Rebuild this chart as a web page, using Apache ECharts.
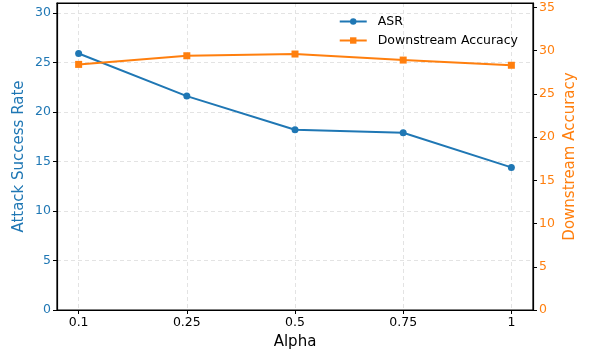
<!DOCTYPE html>
<html>
<head>
<meta charset="utf-8">
<script src="https://cdn.jsdelivr.net/npm/echarts@6/dist/echarts.min.js"></script>
<style>
  html, body { margin: 0; padding: 0; background: #fff; }
  #main { width: 595px; height: 355px; }
</style>
</head>
<body>
<div id="main"></div>
<script>
var alphas = ['0.1', '0.25', '0.5', '0.75', '1'];
var asr = [25.9, 21.6, 18.2, 17.9, 14.4];
var downstreamAcc = [28.4, 29.4, 29.6, 28.9, 28.3];

var blue = '#1f77b4', orange = '#ff7f0e';
var font = 'DejaVu Sans';

var myChart = echarts.init(document.getElementById('main'));

function pts(vals) {
    return vals.map(function (v, i) { return [i, v]; });
}

var gridLine = { show: true, lineStyle: { type: [4, 3], color: '#e3e3e3' } };

myChart.setOption({
    animation: false,
    textStyle: { fontFamily: font },
    grid: {
        left: 57, right: 62, top: 3, bottom: 42,
        show: true, borderColor: '#000', borderWidth: 1.2
    },
    legend: {
        orient: 'vertical',
        right: 72, top: 10,
        itemGap: 6,
        itemWidth: 27, itemHeight: 8,
        textStyle: { fontFamily: font, fontSize: 12.5, color: '#000', padding: [0, 0, 0, 6] },
        data: ['ASR', 'Downstream Accuracy']
    },
    xAxis: [{
        type: 'value',
        min: -0.2, max: 4.2,
        name: 'Alpha',
        nameLocation: 'middle',
        nameGap: 25,
        nameTextStyle: { fontFamily: font, fontSize: 15, color: '#000' },
        axisLine: { onZero: false, lineStyle: { color: '#000', width: 1.2 } },
        axisTick: { show: true, length: 4, customValues: [0, 1, 2, 3, 4], lineStyle: { color: '#000' } },
        axisLabel: {
            customValues: [0, 1, 2, 3, 4],
            fontSize: 12.5, color: '#000', margin: 6,
            formatter: function (v) { return alphas[Math.round(v)]; }
        },
        splitLine: gridLine
    }, {
        // top spine only
        type: 'value',
        position: 'top',
        min: -0.2, max: 4.2,
        axisLine: { show: true, onZero: false, lineStyle: { color: '#000', width: 1.2 } },
        axisTick: { show: false },
        axisLabel: { show: false },
        splitLine: { show: false }
    }],
    yAxis: [{
        type: 'value',
        min: 0, max: 31, interval: 5,
        position: 'left',
        name: 'Attack Success Rate',
        nameLocation: 'middle',
        nameGap: 30,
        nameMoveOverlap: false,
        nameTextStyle: { fontFamily: font, fontSize: 15, color: blue },
        axisLine: { show: true, onZero: false, lineStyle: { color: '#000', width: 1.2 } },
        axisTick: { show: true, length: 4, lineStyle: { color: '#000' } },
        axisLabel: { fontSize: 12.5, color: blue, margin: 6 },
        splitLine: gridLine
    }, {
        type: 'value',
        min: 0, max: 35.5, interval: 5,
        position: 'right',
        name: 'Downstream Accuracy',
        nameLocation: 'middle',
        nameGap: 30,
        nameMoveOverlap: false,
        nameRotate: 90,
        nameTextStyle: { fontFamily: font, fontSize: 15, color: orange },
        axisLine: { show: true, onZero: false, lineStyle: { color: '#000', width: 1.2 } },
        axisTick: { show: true, length: 4, lineStyle: { color: '#000' } },
        axisLabel: { fontSize: 12.5, color: orange, margin: 6 },
        splitLine: { show: false }
    }],
    series: [{
        name: 'ASR',
        type: 'line',
        yAxisIndex: 0,
        data: pts(asr),
        symbol: 'circle',
        symbolSize: 7,
        itemStyle: { color: blue },
        lineStyle: { color: blue, width: 2 }
    }, {
        name: 'Downstream Accuracy',
        type: 'line',
        yAxisIndex: 1,
        data: pts(downstreamAcc),
        symbol: 'rect',
        symbolSize: 7,
        itemStyle: { color: orange },
        lineStyle: { color: orange, width: 2 }
    }]
});
</script>
</body>
</html>
